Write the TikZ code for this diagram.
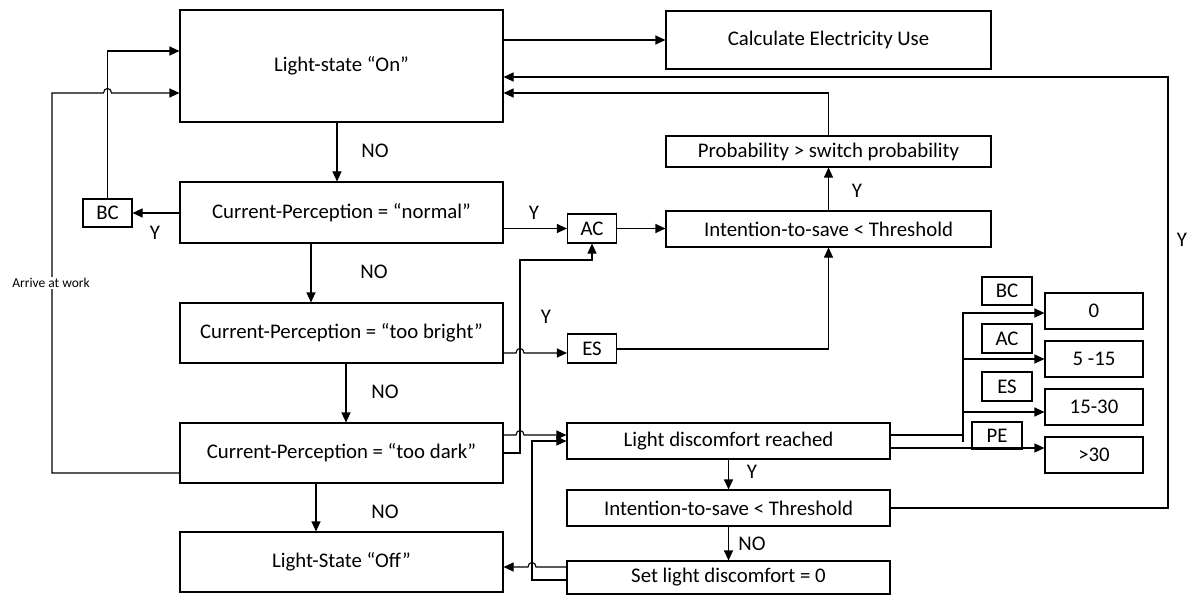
\documentclass[tikz,border=0pt]{standalone}
\usepackage{fontspec}
\setmainfont{Carlito}
\usetikzlibrary{arrows.meta}
\begin{document}
\begin{tikzpicture}[x=1pt,y=-1pt,
  box/.style={draw, line width=1.1pt, inner sep=0pt, font=\fontsize{20.8}{24}\selectfont, anchor=center},
  ln/.style={line width=1.1pt},
  arr/.style={line width=1.1pt, -{Triangle[length=10pt,width=9pt]}},
  lab/.style={font=\fontsize{20.8}{24}\selectfont, inner sep=0pt}]
\useasboundingbox (0,0) rectangle (1190,596);
\fill[white] (0,0) rectangle (1190,596);
% main column
\node[box, minimum width=323pt, minimum height=112pt] (on) at (341.5,66) {Light-state “On”};
\node[box, minimum width=323pt, minimum height=61pt] (normal) at (341.5,212.5) {Current-Perception = “normal”};
\node[box, minimum width=323pt, minimum height=60pt] (bright) at (341.5,333) {Current-Perception = “too bright”};
\node[box, minimum width=323pt, minimum height=60pt] (dark) at (341.5,453) {Current-Perception = “too dark”};
\node[box, minimum width=323pt, minimum height=60pt] (off) at (341.5,562) {Light-State “Off”};
\node[box, minimum width=49pt, minimum height=28pt] (bc1) at (107.5,213) {BC};
% middle / right
\node[box, minimum width=325pt, minimum height=58pt] (calc) at (828.5,40) {Calculate Electricity Use};
\node[box, minimum width=325pt, minimum height=31pt] (prob) at (828.5,151.5) {Probability > switch probability};
\node[box, minimum width=325pt, minimum height=36pt] (its1) at (828.5,229) {Intention-to-save < Threshold};
\node[box, minimum width=49pt, minimum height=29pt] (ac1) at (592,228.5) {AC};
\node[box, minimum width=49pt, minimum height=29pt] (es1) at (592,348.5) {ES};
\node[box, minimum width=323pt, minimum height=36pt] (ld) at (728.5,441) {Light discomfort reached};
\node[box, minimum width=323pt, minimum height=36pt] (its2) at (728.5,508) {Intention-to-save < Threshold};
\node[box, minimum width=323pt, minimum height=33pt] (set) at (728.5,577.5) {Set light discomfort = 0};
% value boxes
\node[box, minimum width=98pt, minimum height=36pt] (v0) at (1094,311) {0};
\node[box, minimum width=98pt, minimum height=36pt] (v1) at (1094,359) {5 -15};
\node[box, minimum width=98pt, minimum height=36pt] (v2) at (1094,407) {15-30};
\node[box, minimum width=98pt, minimum height=36pt] (v3) at (1094,455) {>30};
\node[box, minimum width=50pt, minimum height=28pt] (lbc) at (1007,291) {BC};
\node[box, minimum width=50pt, minimum height=29pt] (lac) at (1007,338.5) {AC};
\node[box, minimum width=50pt, minimum height=29pt] (les) at (1007,386.5) {ES};
\node[box, minimum width=50pt, minimum height=27pt] (lpe) at (997,435.5) {PE};
% connectors
\draw[arr] (on.east |- calc.west) -- (calc.west);
\draw[arr] (prob.north) -- (prob.north |- 0,93) -- (on.east |- 0,93);
\draw[arr] (its2.east) -- (1168,508) -- (1168,77) -- (on.east |- 0,77);
\draw[arr] (its1.north) -- (prob.south);
\draw[arr] (on.south -| 337,0) -- (normal.north -| 337,0);
\draw[arr] (normal.south -| 311,0) -- (bright.north -| 311,0);
\draw[arr] (bright.south -| 346,0) -- (dark.north -| 346,0);
\draw[arr] (dark.south -| 316,0) -- (off.north -| 316,0);
\draw[arr] (normal.west |- bc1.east) -- (bc1.east);
\draw[arr] (bc1.north) -- (bc1.north |- 0,51) -- (on.west |- 0,51);
\draw[arr] (dark.west |- 0,473) -- (52,473) -- (52,93) -- (103.5,93) .. controls (103.5,87) and (111.5,87) .. (111.5,93) -- (on.west |- 0,93);
\node[font=\fontsize{13.5}{15}\selectfont, fill=white, inner sep=1.5pt] (arrive) at (51,283) {Arrive at work};
\draw[arr] (normal.east |- ac1.west) -- (ac1.west);
\draw[arr] (ac1.east) -- (its1.west |- ac1.east);
\draw[arr] (bright.east |- 0,353) -- (516,353) .. controls (516,347) and (524,347) .. (524,353) -- (es1.west |- 0,353);
\draw[arr] (es1.east |- 0,349) -- (828.5,349) -- (its1.south);
\draw[arr] (dark.east) -- (520,453) -- (520,260) -- (592,260) -- (ac1.south);
\draw[arr] (dark.east |- 0,435) -- (516,435) .. controls (516,429) and (524,429) .. (524,435) -- (ld.west |- 0,435);
\draw[arr] (ld.south) -- (its2.north);
\draw[arr] (its2.south) -- (set.north);
\draw[arr] (set.west |- 0,567) -- (536,567) .. controls (536,561) and (528,561) .. (528,567) -- (off.east |- 0,567);
\draw[arr] (set.west |- 0,580) -- (532,580) -- (532,441) -- (ld.west);
\draw[arr] (ld.east |- 0,435) -- (963,435) -- (963,313) -- (v0.west |- 0,313);
\draw[ln] (963,435) -- (963,442);
\draw[arr] (963,359) -- (v1.west |- 0,359);
\draw[arr] (963,412) -- (v2.west |- 0,412);
\draw[arr] (ld.east |- 0,448) -- (v3.west |- 0,448);
% labels
\node[lab] (no1) at (375,151) {NO};
\node[lab] (no2) at (374,272) {NO};
\node[lab] (no3) at (385,392) {NO};
\node[lab] (no4) at (385,512) {NO};
\node[lab] (yn) at (534,213) {Y};
\node[lab] (ybc) at (155,233) {Y};
\node[lab] (yes) at (546,317) {Y};
\node[lab] (yp) at (857,191) {Y};
\node[lab] (yld) at (752,472) {Y};
\node[lab] (nos) at (752,544) {NO};
\node[lab] (yr) at (1182,240) {Y};
\end{tikzpicture}
\end{document}
